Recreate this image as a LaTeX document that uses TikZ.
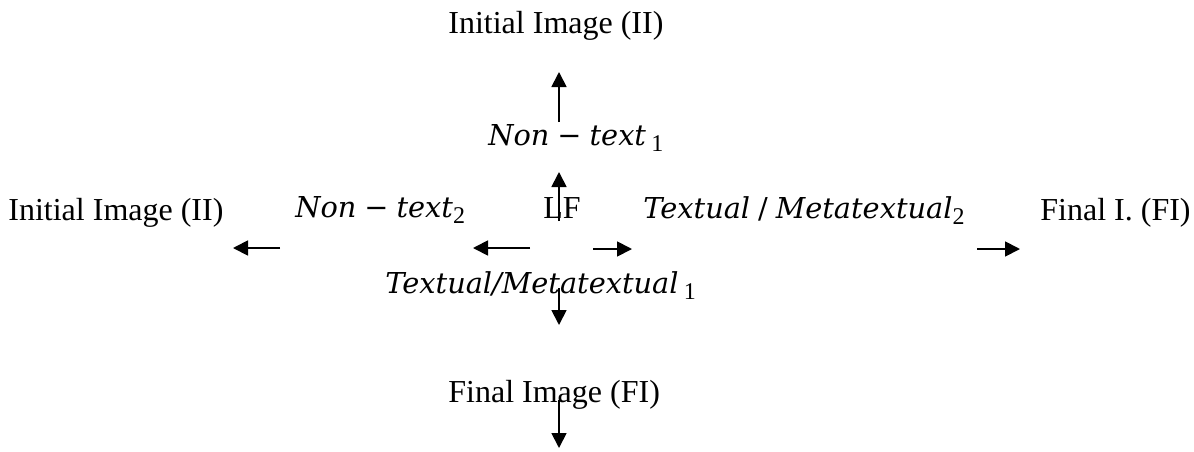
\documentclass[tikz,border=0pt]{standalone}
\usepackage{fontspec}
\setmainfont{Liberation Serif}
\newfontfamily\mitfont{DejaVu Serif}[Scale=0.9]
\usepackage{tikz}
\usetikzlibrary{arrows.meta}
\newcommand{\mvar}[1]{{\mitfont\itshape #1}}
\newcommand{\lowidx}[1]{\raisebox{-0.45ex}{\fontsize{12}{13}\selectfont #1}}

\begin{document}
\begin{tikzpicture}[x=0.5pt,y=-0.5pt,font=\fontsize{16}{19}\selectfont,
    lbl/.style={inner sep=0pt, anchor=base west},
    flow/.style={line width=0.9pt, -{Triangle[length=7.5pt,width=7.5pt]}}]
  \useasboundingbox (0,0) rectangle (1194,451);

  % vertical column
  \node[lbl] (ii1) at (448,33) {Initial Image (II)};
  \node[lbl] (non1) at (488,145) {\mvar{Non} {\mitfont −} \mvar{text}\,\lowidx{1}};
  \node[lbl] (lf) at (543,218) {LF};
  \node[lbl] (tm1) at (385,293) {\mvar{Textual/Metatextual}\,\lowidx{1}};
  \node[lbl] (fi1) at (448,402) {Final Image (FI)};

  % horizontal row
  \node[lbl] (ii2) at (8,220) {Initial Image (II)};
  \node[lbl] (non2) at (295,217) {\mvar{Non} {\mitfont −} \mvar{text}\lowidx{2}};
  \node[lbl] (tm2) at (643,218) {\mvar{Textual} {\mitfont /} \mvar{Metatextual}\lowidx{2}};
  \node[lbl] (fi2) at (1040,220) {Final I. (FI)};

  % arrow ends
  \coordinate (up1s) at (559,122);  \coordinate (up1e) at (559,72);
  \coordinate (up2s) at (559,221);  \coordinate (up2e) at (559,172);
  \coordinate (lt1s) at (280,248);  \coordinate (lt1e) at (233,248);
  \coordinate (lt2s) at (530,248);  \coordinate (lt2e) at (473,248);
  \coordinate (rt1s) at (593,249);  \coordinate (rt1e) at (632,249);
  \coordinate (rt2s) at (977,249);  \coordinate (rt2e) at (1020,249);
  \coordinate (dn1s) at (559,288);  \coordinate (dn1e) at (559,325);
  \coordinate (dn2s) at (559,400);  \coordinate (dn2e) at (559,448);

  \draw[flow] (up1s) -- (up1e);
  \draw[flow] (up2s) -- (up2e);
  \draw[flow] (lt1s) -- (lt1e);
  \draw[flow] (lt2s) -- (lt2e);
  \draw[flow] (rt1s) -- (rt1e);
  \draw[flow] (rt2s) -- (rt2e);
  \draw[flow] (dn1s) -- (dn1e);
  \draw[flow] (dn2s) -- (dn2e);
\end{tikzpicture}
\end{document}
